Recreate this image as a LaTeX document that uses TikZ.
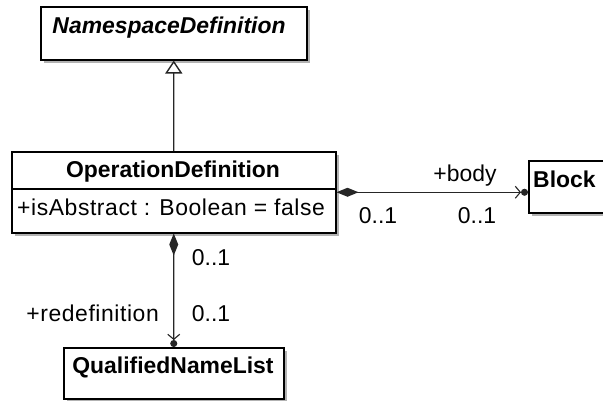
\documentclass[tikz,border=0pt]{standalone}
\usepackage{fontspec}
\setmainfont{Liberation Sans}
\newfontfamily\widefont[LetterSpace=2.5]{Liberation Sans}
\usetikzlibrary{arrows.meta,shadows,calc}
\begin{document}
\begin{tikzpicture}[x=1bp,y=-1bp,
  font=\fontsize{23}{27}\selectfont,
  cls/.style={draw=black,line width=1.5bp,fill=white,rectangle,anchor=north west,inner sep=0pt,
    drop shadow={shadow xshift=3bp,shadow yshift=-3bp,fill=black!30,opacity=1}},
  conn/.style={line width=1.4bp,draw=black!85},
  gen/.style={conn,-{Triangle[open,length=13bp,width=17bp,line width=1.4bp]}},
  assoc/.style={conn,{Diamond[length=22bp,width=9bp]}-{Straight Barb[length=5bp,width=12bp,line width=1.1bp] Circle[length=7bp]}},
  lbl/.style={inner sep=0pt,anchor=base}
]
\useasboundingbox (0,0) rectangle (603,400);

% classes
\node[cls,minimum width=266bp,minimum height=53bp] (ns) at (40,6) {};
\node[lbl,font=\fontsize{23}{27}\selectfont\bfseries\itshape] (nst) at (169,33) {NamespaceDefinition};

\node[cls,minimum width=324bp,minimum height=81bp] (op) at (11,151) {};
\draw[line width=1.5bp] ($(op.north west)+(0,38)$) -- ($(op.north east)+(0,38)$);
\node[lbl,font=\fontsize{23}{27}\selectfont\bfseries] (opt) at (173,177) {OperationDefinition};
\node[lbl,anchor=base west,font=\fontsize{23}{27}\widefont] (opa) at (17,215) {+isAbstract : Boolean = false};

\node[cls,minimum width=110bp,minimum height=52bp] (blk) at (528,160) {};
\node[lbl,anchor=base west,font=\fontsize{23}{27}\selectfont\bfseries] (blkt) at (533,187) {Block};

\node[cls,minimum width=220bp,minimum height=51bp] (qnl) at (63,347) {};
\node[lbl,font=\fontsize{23}{27}\selectfont\bfseries] (qnlt) at (173,373) {QualifiedNameList};

% connectors
\draw[gen] (op.north) -- (ns.south);
\draw[assoc] (op.east) -- (op.east -| blk.west);
\draw[assoc] (op.south) -- (qnl.north);

% labels
\node[lbl] (lbody) at (465,181) {+body};
\node[lbl] (m1) at (378,223) {0..1};
\node[lbl] (m2) at (477,223) {0..1};
\node[lbl] (m3) at (211,265) {0..1};
\node[lbl] (m4) at (211,321) {0..1};
\node[lbl,anchor=base east,font=\fontsize{23}{27}\widefont] (lredef) at (159,321) {+redefinition};
\end{tikzpicture}
\end{document}
